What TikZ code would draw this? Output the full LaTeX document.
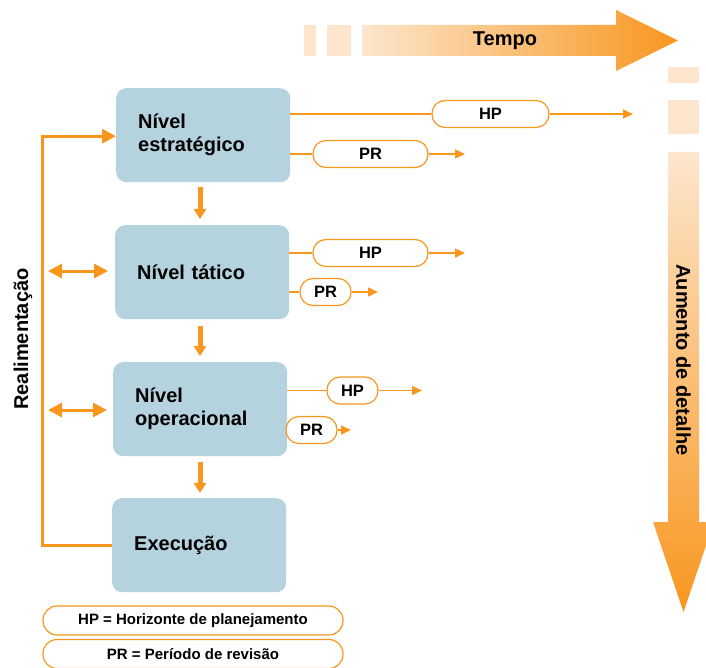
\documentclass[tikz,border=0pt]{standalone}
\usepackage{fontspec}
\setmainfont{Liberation Sans}
\usetikzlibrary{arrows.meta}
\definecolor{org}{RGB}{248,150,30}
\definecolor{lor}{RGB}{253,230,205}
\definecolor{bx}{RGB}{180,211,222}
\begin{document}
\begin{tikzpicture}[x=1pt,y=-1pt,
  level/.style={fill=bx, rounded corners=10pt, minimum width=174pt, minimum height=94pt,
    text width=130pt, inner xsep=22pt, align=left, anchor=north west,
    font=\fontsize{20}{23}\selectfont\bfseries},
  rib/.style={draw=org, line width=1.2pt, fill=white, rounded corners=13pt,
    minimum height=27pt, inner sep=0pt, font=\fontsize{16.5}{18}\selectfont\bfseries},
  leg/.style={draw=org, line width=1.2pt, fill=white, rounded corners=14pt,
    minimum width=300pt, minimum height=29pt, inner sep=0pt, font=\fontsize{15}{17}\selectfont\bfseries},
  rl/.style={draw=org, line width=1.4pt},
  rla/.style={rl, -{Triangle[length=10pt,width=9pt]}},
  downarr/.style={draw=org, line width=5pt, -{Triangle[length=10pt,width=12pt]}},
  fb/.style={draw=org, line width=3pt},
  fba/.style={fb, -{Triangle[length=14pt,width=14pt]}},
  dbl/.style={fb, {Triangle[length=14pt,width=14pt]}-{Triangle[length=14pt,width=14pt]}},
  big/.style={font=\fontsize{20}{23}\selectfont\bfseries}
]
\useasboundingbox (0,0) rectangle (706,668);

% Tempo arrow
\fill[lor] (304,25) rectangle (316,56);
\fill[lor] (327,25) rectangle (351,56);
\shade[left color=lor, right color=org] (362,25) -- (616,25) -- (616,10) -- (678,40.5) -- (616,71) -- (616,56) -- (362,56) -- cycle;
\node[big] (tempo) at (505,41) {Tempo};

% Aumento de detalhe arrow
\fill[lor] (668,67) rectangle (699,83);
\fill[lor] (668,100) rectangle (699,134);
\shade[top color=lor, bottom color=org] (668,152) -- (699,152) -- (699,522) -- (714,522) -- (683.5,612) -- (653,522) -- (668,522) -- cycle;
\node[big, rotate=-90] (aum) at (683.5,360) {Aumento de detalhe};

% levels
\node[level] (est) at (116,88) {Nível\\estratégico};
\node[level] (tat) at (115,225) {Nível tático};
\node[level] (op) at (113,362) {Nível\\operacional};
\node[level] (exe) at (112,498) {Execução};

% down arrows
\coordinate (ax) at (200,0);
\draw[downarr] ([yshift=-5pt]ax |- est.south) -- ([yshift=6pt]ax |- tat.north);
\draw[downarr] ([yshift=-7pt]ax |- tat.south) -- ([yshift=6pt]ax |- op.north);
\draw[downarr] ([yshift=-6pt]ax |- op.south) -- ([yshift=5pt]ax |- exe.north);

% feedback
\node[big, rotate=90] (real) at (23,339) {Realimentação};
\coordinate (fbx) at (42,340);
\draw[fba] (exe.west) -| (fbx) |- ([yshift=-1pt]est.west);
\coordinate (d1) at (48,271);
\coordinate (d2) at (48,410);
\draw[dbl] (d1) -- ([xshift=-7pt]tat.west |- d1);
\draw[dbl] (d2) -- ([xshift=-6pt]op.west |- d2);

% ribbons
\node[rib, minimum width=117pt] (hp1) at (490.5,114) {HP};
\node[rib, minimum width=115pt] (pr1) at (370.5,154) {PR};
\node[rib, minimum width=115pt] (hp2) at (370.5,253) {HP};
\node[rib, minimum width=51pt] (pr2) at (325.5,292) {PR};
\node[rib, minimum width=51pt] (hp3) at (352.5,390.5) {HP};
\node[rib, minimum width=51pt] (pr3) at (311.5,430) {PR};
\coordinate (e1) at (633,114);
\coordinate (e2) at (465,154);
\coordinate (e3) at (465,253);
\coordinate (e4) at (378,292);
\coordinate (e5) at (422,390.5);
\coordinate (e6) at (351,430);

\draw[rl] (est.east |- hp1) -- (hp1.west);
\draw[rla] (hp1.east) -- (e1);
\draw[rl] (est.east |- pr1) -- (pr1.west);
\draw[rla] (pr1.east) -- (e2);
\draw[rl] (tat.east |- hp2) -- (hp2.west);
\draw[rla] (hp2.east) -- (e3);
\draw[rl] (tat.east |- pr2) -- (pr2.west);
\draw[rla] (pr2.east) -- (e4);
\draw[rl] (op.east |- hp3) -- (hp3.west);
\draw[rla] (hp3.east) -- (e5);
\draw[rla] (pr3.east) -- (e6);

% legend
\node[leg] (lhp) at (193,620.5) {HP = Horizonte de planejamento};
\node[leg] (lpr) at (193,654) {PR = Período de revisão};
\end{tikzpicture}
\end{document}
